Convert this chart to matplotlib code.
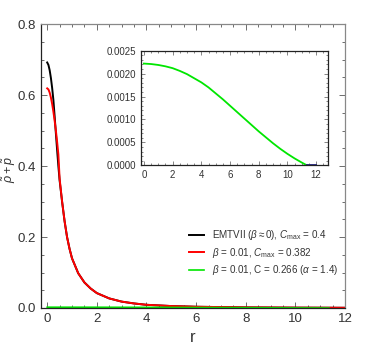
import numpy as np
import matplotlib.pyplot as plt
from matplotlib.ticker import MultipleLocator

plt.rcParams['font.family'] = ['Liberation Sans', 'DejaVu Sans']
plt.rcParams['mathtext.fontset'] = 'custom'
plt.rcParams['mathtext.rm'] = 'Liberation Sans'
plt.rcParams['mathtext.it'] = 'Liberation Sans:italic'

# Data
r_main = [0, 0.05, 0.1, 0.15, 0.2, 0.25, 0.3, 0.35, 0.4, 0.45, 0.5, 0.6, 0.7, 0.8,
          0.9, 1.0, 1.25, 1.5, 1.75, 2.0, 2.5, 3.0, 3.5, 4.0, 5.0, 6.0, 8.0, 10.0, 12.0]
black_vals = [0.692, 0.685, 0.67, 0.648, 0.62, 0.586, 0.54, 0.492, 0.445, 0.40,
              0.36, 0.30, 0.245, 0.2, 0.167, 0.14, 0.098, 0.072, 0.055, 0.042,
              0.027, 0.018, 0.0128, 0.009, 0.0055, 0.0035, 0.0017, 0.001, 0.0006]
red_vals = [0.619, 0.616, 0.607, 0.593, 0.575, 0.553, 0.528, 0.50, 0.468, 0.433,
            0.365, 0.30, 0.245, 0.2, 0.167, 0.14, 0.098, 0.072, 0.055, 0.042,
            0.027, 0.018, 0.0128, 0.009, 0.0055, 0.0035, 0.0017, 0.001, 0.0006]
r_green = [0, 0.5, 1.0, 1.5, 2.0, 2.5, 3.0, 3.5, 4.0, 4.5, 5.0, 5.5, 6.0, 6.5, 7.0,
           7.5, 8.0, 8.5, 9.0, 9.5, 10.0, 10.5, 11.0, 11.35]
green_vals = [0.00222, 0.00221, 0.00219, 0.00216, 0.00212, 0.00206, 0.00199,
              0.00190, 0.00181, 0.00170, 0.00157, 0.00144, 0.00130, 0.00116,
              0.00102, 0.00088, 0.00074, 0.00061, 0.00048, 0.00036, 0.00025,
              0.00015, 0.00006, 0.0]
r_tail = [11.35, 12.0]
tail_vals = [0.0, 0.0]

labels = [r'EMTVII ($\beta \approx 0$), $C_{\rm max}$ = 0.4',
          r'$\beta$ = 0.01, $C_{\rm max}$ = 0.382',
          r'$\beta$ = 0.01, C = 0.266 ($\alpha$ = 1.4)']

GREEN = '#00e600'
TXT = '#333333'

fig = plt.figure(figsize=(3.74, 3.5), dpi=100)
ax = fig.add_axes([0.1096, 0.12, 0.8129, 0.811])

ax.plot(r_main, black_vals, color='black', lw=1.4, label=labels[0])
ax.plot(r_main, red_vals, color='red', lw=1.4, label=labels[1])
ax.plot(r_green, green_vals, color=GREEN, lw=1.2, label=labels[2])

ax.set_xlim(-0.25, 12)
ax.set_ylim(0, 0.8)
ax.xaxis.set_major_locator(MultipleLocator(2))
ax.xaxis.set_minor_locator(MultipleLocator(0.5))
ax.yaxis.set_major_locator(MultipleLocator(0.2))
ax.yaxis.set_minor_locator(MultipleLocator(0.05))
ax.tick_params(which='both', direction='in', top=True, right=True,
               labelsize=9.5, labelcolor=TXT, color='#555555', width=0.6)
ax.tick_params(which='major', length=4)
ax.tick_params(which='minor', length=2)
ax.yaxis.set_major_formatter(plt.FuncFormatter(lambda v, p: f'{v:.1f}'))
for s in ['top', 'right']:
    ax.spines[s].set_color('#888888')
for s in ['left', 'bottom']:
    ax.spines[s].set_color('#222222')
for s in ax.spines.values():
    s.set_linewidth(0.9)

ax.set_xlabel('r', fontsize=12, color=TXT, labelpad=4)
ax.set_ylabel(r'$\tilde{\rho}+\tilde{p}$', fontsize=9, color=TXT)
ax.yaxis.set_label_coords(-0.075, 0.49)

ax.legend(loc='lower right', bbox_to_anchor=(1.006, 0.078), frameon=False,
          fontsize=7.1, handlelength=1.5, handletextpad=0.8, labelspacing=0.35,
          labelcolor=TXT)

# inset
ins = fig.add_axes([0.376, 0.5277, 0.5, 0.3273])
ins.plot(r_green, green_vals, color=GREEN, lw=1.3)
ins.plot(r_tail, tail_vals, color='#202080', lw=1.3)
ins.set_xlim(-0.23, 12.8)
ins.set_ylim(0, 0.0025)
ins.xaxis.set_major_locator(MultipleLocator(2))
ins.xaxis.set_minor_locator(MultipleLocator(0.5))
ins.yaxis.set_major_locator(MultipleLocator(0.0005))
ins.yaxis.set_minor_locator(MultipleLocator(0.0001))
ins.yaxis.set_major_formatter(plt.FuncFormatter(lambda v, p: f'{v:.4f}'))
ins.tick_params(which='both', direction='in', top=True, right=True,
                labelsize=7, labelcolor=TXT, color='#555555', width=0.5)
ins.tick_params(which='major', length=3)
ins.tick_params(which='minor', length=1.5)
for s in ins.spines.values():
    s.set_color('#222222')
    s.set_linewidth(0.9)

fig.savefig('out.png', dpi=100)
